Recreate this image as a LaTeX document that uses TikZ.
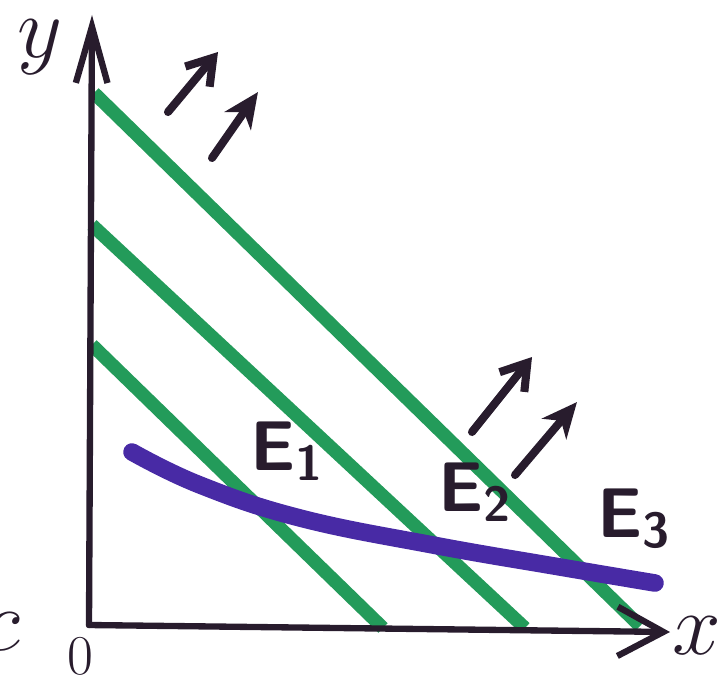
\documentclass[tikz,border=0pt]{standalone}
\usepackage{tikz}
\usetikzlibrary{arrows.meta}
\definecolor{markgreen}{RGB}{35,155,90}
\definecolor{markblue}{RGB}{72,42,165}
\definecolor{markink}{RGB}{40,28,45}

\begin{document}
\begin{tikzpicture}[
  x=0.01cm, y=-0.01cm,
  axis/.style={markink, line width=1.8pt, line cap=round},
  budget/.style={markgreen, line width=3.8pt},
  indiff/.style={markblue, line width=5pt, line cap=round},
  shiftarr/.style={markink, line width=2.3pt, line cap=round,
                   -{Straight Barb[length=7pt, width=9pt]}},
  shiftarrb/.style={markink, line width=2.3pt, line cap=round,
                    -{Stealth[length=10pt, width=9pt, inset=3pt]}},
  lbl/.style={markink, font=\sffamily\bfseries\fontsize{20}{20}\selectfont, inner sep=0pt},
  axlbl/.style={markink, inner sep=0pt}
]
\useasboundingbox (0,0) rectangle (722,682);

\coordinate (O) at (89,625);
\coordinate (ytip) at (92,15);
\coordinate (xtip) at (670,632);

% budget lines
\draw[budget] (92,345) -- (383,628);
\draw[budget] (92,225) -- (525,628);
\draw[budget] (94,93) -- (640,626);

% axes
\draw[axis, -{Straight Barb[length=16pt, width=9pt]}] (O) -- (ytip);
\draw[axis, -{Straight Barb[length=13pt, width=14pt]}] (O) -- (xtip);

% indifference curve
\draw[indiff] plot[smooth, tension=0.7] coordinates
  {(132,452) (200,485) (300,518) (433,545) (560,567) (655,583)};

% shift arrows
\draw[shiftarr] (168,112) -- (218,52);
\draw[shiftarrb] (212,158) -- (258,92);
\draw[shiftarr] (472,432) -- (532,357);
\draw[shiftarrb] (515,475) -- (577,402);

\node[lbl, anchor=base west] (E1) at (250,470) {E\textsubscript{1}};
\node[lbl, anchor=base west] (E2) at (438,511) {E\textsubscript{2}};
\node[lbl, anchor=base west] (E3) at (597,537) {E\textsubscript{3}};

\node[axlbl, font=\fontsize{26}{26}\selectfont] (ylab) at (40,47) {$y$};
\node[axlbl, font=\fontsize{32}{32}\selectfont] (xlab) at (697,636) {$x$};
\node[axlbl, font=\fontsize{16}{16}\selectfont] (zero) at (80,656) {0};
\node[axlbl, font=\fontsize{30}{30}\selectfont] (cpart) at (2,632) {$c$};
\end{tikzpicture}
\end{document}
